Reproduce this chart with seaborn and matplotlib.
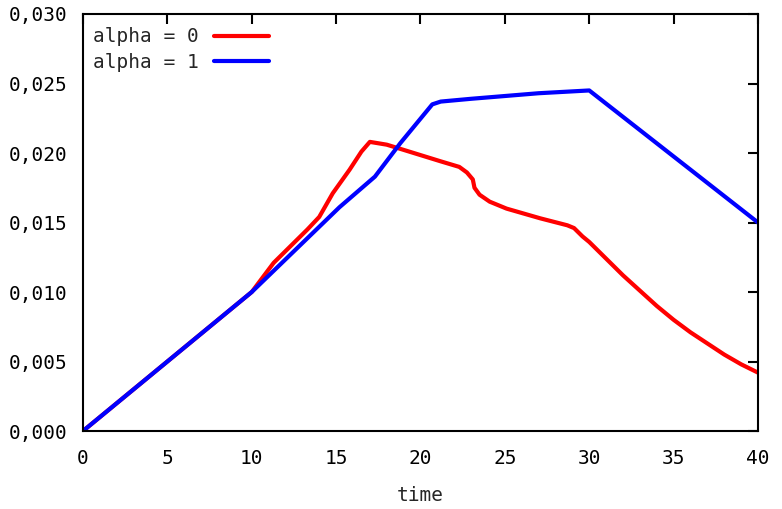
import pandas as pd
import matplotlib
matplotlib.use('Agg')
import matplotlib.pyplot as plt
import seaborn as sns

# values
t_alpha0 = [0, 10, 11.3, 13.3, 14.0, 14.8, 15.8, 16.5, 17.0, 18.0, 21.2, 22.3, 22.75,
            23.1, 23.2, 23.5, 24.1, 25.1, 27.1, 28.7, 29.1, 29.6, 30, 31, 32, 33, 34,
            35, 36, 37, 38, 39, 40]
v_alpha0 = [0.0, 0.0100, 0.0121, 0.0145, 0.0154, 0.0171, 0.0188, 0.0201, 0.0208, 0.0206,
            0.0194, 0.0190, 0.0186, 0.0181, 0.0175, 0.0170, 0.0165, 0.0160, 0.0153,
            0.0148, 0.0146, 0.0140, 0.0136, 0.0124, 0.0112, 0.0101, 0.0090, 0.0080,
            0.0071, 0.0063, 0.0055, 0.0048, 0.0042]

t_alpha1 = [0, 10, 15.2, 17.3, 18.8, 20.7, 21.2, 23, 25, 27, 28.5, 30, 40]
v_alpha1 = [0.0, 0.0100, 0.0161, 0.0183, 0.0207, 0.0235, 0.0237, 0.0239, 0.0241, 0.0243,
            0.0244, 0.0245, 0.0150]

x_ticks = [0, 5, 10, 15, 20, 25, 30, 35, 40]
y_ticks = [0.000, 0.005, 0.010, 0.015, 0.020, 0.025, 0.030]

sns.set_style('white')
plt.rcParams['font.family'] = ['DejaVu Sans Mono']

fig = plt.figure(figsize=(7.82, 5.09), dpi=100)
ax = fig.add_axes([0.1061, 0.1532, 0.8632, 0.8193])

sns.lineplot(x=t_alpha0, y=v_alpha0, ax=ax, color='#ff0000', linewidth=3,
             label='alpha = 0', sort=False, estimator=None)
sns.lineplot(x=t_alpha1, y=v_alpha1, ax=ax, color='#0000ff', linewidth=3,
             label='alpha = 1', sort=False, estimator=None)

ax.set_xlim(0, 40)
ax.set_ylim(0, 0.030)
ax.set_xticks(x_ticks)
ax.set_xticklabels([str(t) for t in x_ticks])
ax.set_yticks(y_ticks)
ax.set_yticklabels([f'{v:.3f}'.replace('.', ',') for v in y_ticks])
ax.tick_params(direction='in', length=7, width=1.5, top=True, right=True,
               labelsize=14, colors='black')
ax.tick_params(axis='x', pad=13)
ax.tick_params(axis='y', pad=11)
for s in ax.spines.values():
    s.set_color('black')
    s.set_linewidth(1.5)

ax.set_xlabel('time', fontsize=14, labelpad=13)
ax.set_ylabel('')

ax.legend(loc='upper left', bbox_to_anchor=(0.0148, 0.968), frameon=False,
          markerfirst=False, fontsize=14, handlelength=2.8, handletextpad=0.8,
          labelspacing=0.35, borderpad=0, borderaxespad=0)

fig.savefig('out.png', dpi=100)
